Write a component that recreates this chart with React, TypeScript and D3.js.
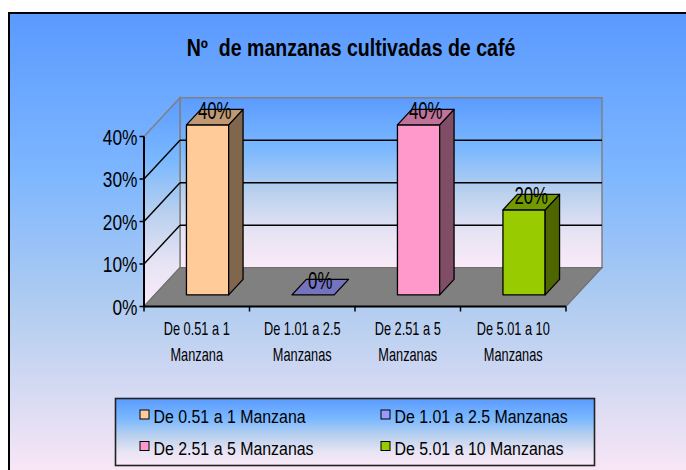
import React from "react";
import * as d3 from "d3";

const title = "Nº  de manzanas cultivadas de café";
const categories = [
  "De 0.51 a 1 Manzana",
  "De 1.01 a 2.5 Manzanas",
  "De 2.51 a 5 Manzanas",
  "De 5.01 a 10 Manzanas",
];
const categoryLines = [
  ["De 0.51 a 1", "Manzana"],
  ["De 1.01 a 2.5", "Manzanas"],
  ["De 2.51 a 5", "Manzanas"],
  ["De 5.01 a 10", "Manzanas"],
];
const values = [40, 0, 40, 20];
const colors = ["#FFCC99", "#9999FF", "#FF99CC", "#99CC00"];
const yTicks = [0, 10, 20, 30, 40];

const W = 686;
const H = 470;
const DX = 36;
const DY = -38.8;
const F0 = 0.3;
const F1 = 0.7;
const FONT = "'Liberation Sans', Arial, sans-serif";

function shade(c: string, k: number) {
  const r = d3.rgb(c);
  return d3.rgb(r.r * k, r.g * k, r.b * k).formatHex();
}

function SText(props: {
  x: number;
  y: number;
  sx: number;
  size: number;
  anchor?: string;
  bold?: boolean;
  children: React.ReactNode;
}) {
  return (
    <text
      transform={`translate(${props.x},${props.y}) scale(${props.sx},1)`}
      textAnchor={props.anchor || "start"}
      fontFamily={FONT}
      fontSize={props.size}
      fontWeight={props.bold ? "bold" : "normal"}
      fill="#000"
      style={{ whiteSpace: "pre" }}
    >
      {props.children}
    </text>
  );
}

export default function App() {
  const x = d3.scaleBand<string>().domain(categories).range([144, 566]);
  const y = d3.scaleLinear().domain([0, 40]).range([306.5, 136.5]);
  const yMax = yTicks[yTicks.length - 1];
  const [x0, x1] = x.range();
  const P = (xv: number, yv: number, d: number): [number, number] => [xv + d * DX, yv + d * DY];
  const poly = (pts: [number, number][]) => pts.map((p) => p.join(",")).join(" ");
  const line = (a: [number, number], b: [number, number]) => ({ x1: a[0], y1: a[1], x2: b[0], y2: b[1] });
  const bw = x.bandwidth() * 0.4;

  return (
    <svg
      width={W}
      height={H}
      style={{ position: "absolute", left: 0, top: 0, display: "block" }}
    >
      <defs>
        <linearGradient id="bgGrad" gradientUnits="userSpaceOnUse" x1="0" y1="12" x2="0" y2="470">
          <stop offset="0" stopColor="#5A9AFF" />
          <stop offset="0.35" stopColor="#7DB6FF" />
          <stop offset="0.65" stopColor="#B2CDF0" />
          <stop offset="1" stopColor="#F8E6F6" />
        </linearGradient>
        <linearGradient id="wallGrad" x1="0" y1="0" x2="0" y2="1">
          <stop offset="0" stopColor="#5B9BFF" />
          <stop offset="0.3" stopColor="#7AB8FF" />
          <stop offset="0.55" stopColor="#B8D0EE" />
          <stop offset="0.8" stopColor="#E8E4F4" />
          <stop offset="1" stopColor="#FAEAF8" />
        </linearGradient>
      </defs>
      <rect x={0} y={0} width={W} height={H} fill="#fff" />
      <rect x={9} y={13} width={W + 20} height={H + 20} fill="url(#bgGrad)" stroke="#000" strokeWidth={2} />

      <SText x={351} y={56} sx={0.85} size={23} anchor="middle" bold>
        {title}
      </SText>

      {/* back wall */}
      <polygon
        points={poly([P(x0, y(yMax), 1), P(x1, y(yMax), 1), P(x1, y(0), 1), P(x0, y(0), 1)])}
        fill="url(#wallGrad)"
        stroke="#808080"
        strokeWidth={1.5}
      />
      {/* left wall */}
      <polygon
        points={poly([P(x0, y(0), 0), P(x0, y(yMax), 0), P(x0, y(yMax), 1), P(x0, y(0), 1)])}
        fill="url(#wallGrad)"
        stroke="#808080"
        strokeWidth={1.5}
      />
      {/* floor */}
      <polygon
        points={poly([P(x0, y(0), 0), P(x1, y(0), 0), P(x1, y(0), 1), P(x0, y(0), 1)])}
        fill="#808080"
        stroke="#707070"
        strokeWidth={1.2}
      />
      {/* gridlines */}
      {yTicks
        .filter((t) => t > 0 && t < yMax)
        .map((t) => (
          <g key={t} stroke="#000" strokeWidth={1.4}>
            <line {...line(P(x0, y(t), 0), P(x0, y(t), 1))} />
            <line {...line(P(x0, y(t), 1), P(x1, y(t), 1))} />
          </g>
        ))}
      {/* axes */}
      <line x1={x0} y1={y(0)} x2={x1} y2={y(0)} stroke="#000" strokeWidth={2} />
      <line x1={x0} y1={y(0)} x2={x0} y2={y(yMax)} stroke="#000" strokeWidth={2} />
      {yTicks.map((t) => (
        <g key={t}>
          <line x1={x0 - 4.5} y1={y(t)} x2={x0} y2={y(t)} stroke="#000" strokeWidth={1.5} />
          <SText x={137.5} y={y(t) + 8} sx={0.77} size={22.5} anchor="end">
            {t + "%"}
          </SText>
        </g>
      ))}
      {[...categories.map((c) => x(c) as number), x1].map((bx, i) => (
        <line key={i} x1={bx} y1={y(0)} x2={bx} y2={y(0) + 5} stroke="#000" strokeWidth={1.5} />
      ))}
      {categoryLines.map((ls, i) => {
        const cx = (x(categories[i]) as number) + x.bandwidth() / 2;
        return (
          <g key={i}>
            {ls.map((l, j) => (
              <SText key={j} x={cx} y={335 + j * 26} sx={0.71} size={18} anchor="middle">
                {l}
              </SText>
            ))}
          </g>
        );
      })}

      {/* bars */}
      {values.map((v, i) => {
        const cx = (x(categories[i]) as number) + x.bandwidth() / 2;
        const bx0 = cx - bw / 2;
        const bx1 = cx + bw / 2;
        const yt = y(v);
        const yb = y(0);
        const c = colors[i];
        const front = [P(bx0, yt, F0), P(bx1, yt, F0), P(bx1, yb, F0), P(bx0, yb, F0)];
        const side = [P(bx1, yt, F0), P(bx1, yt, F1), P(bx1, yb, F1), P(bx1, yb, F0)];
        const top = [P(bx0, yt, F0), P(bx0, yt, F1), P(bx1, yt, F1), P(bx1, yt, F0)];
        const mid = P(cx, yt, (F0 + F1) / 2);
        const ft = P(cx, yt, F0);
        return (
          <g key={i} stroke="#000" strokeWidth={1.3} strokeLinejoin="round">
            {v > 0 && <polygon points={poly(front)} fill={c} />}
            {v > 0 && <polygon points={poly(side)} fill={shade(c, 0.5)} />}
            <polygon points={poly(top)} fill={shade(c, 0.75)} />
            <g stroke="none">
              <SText x={mid[0]} y={ft[1] - 6} sx={0.7} size={24} anchor="middle">
                {v + "%"}
              </SText>
            </g>
          </g>
        );
      })}

      {/* legend */}
      <rect x={115.5} y={398.5} width={479} height={67} fill="url(#wallGrad)" stroke="#222" strokeWidth={1.6} />
      {categories.map((c, i) => {
        const col = i % 2;
        const row = Math.floor(i / 2);
        const lx = 140 + col * 241;
        const ly = 410 + row * 31.5;
        return (
          <g key={c}>
            <rect x={lx} y={ly} width={9} height={9} fill={colors[i]} stroke="#000" strokeWidth={1} />
            <SText x={lx + 13.5} y={ly + 13} sx={0.86} size={18.5}>
              {c}
            </SText>
          </g>
        );
      })}
    </svg>
  );
}
